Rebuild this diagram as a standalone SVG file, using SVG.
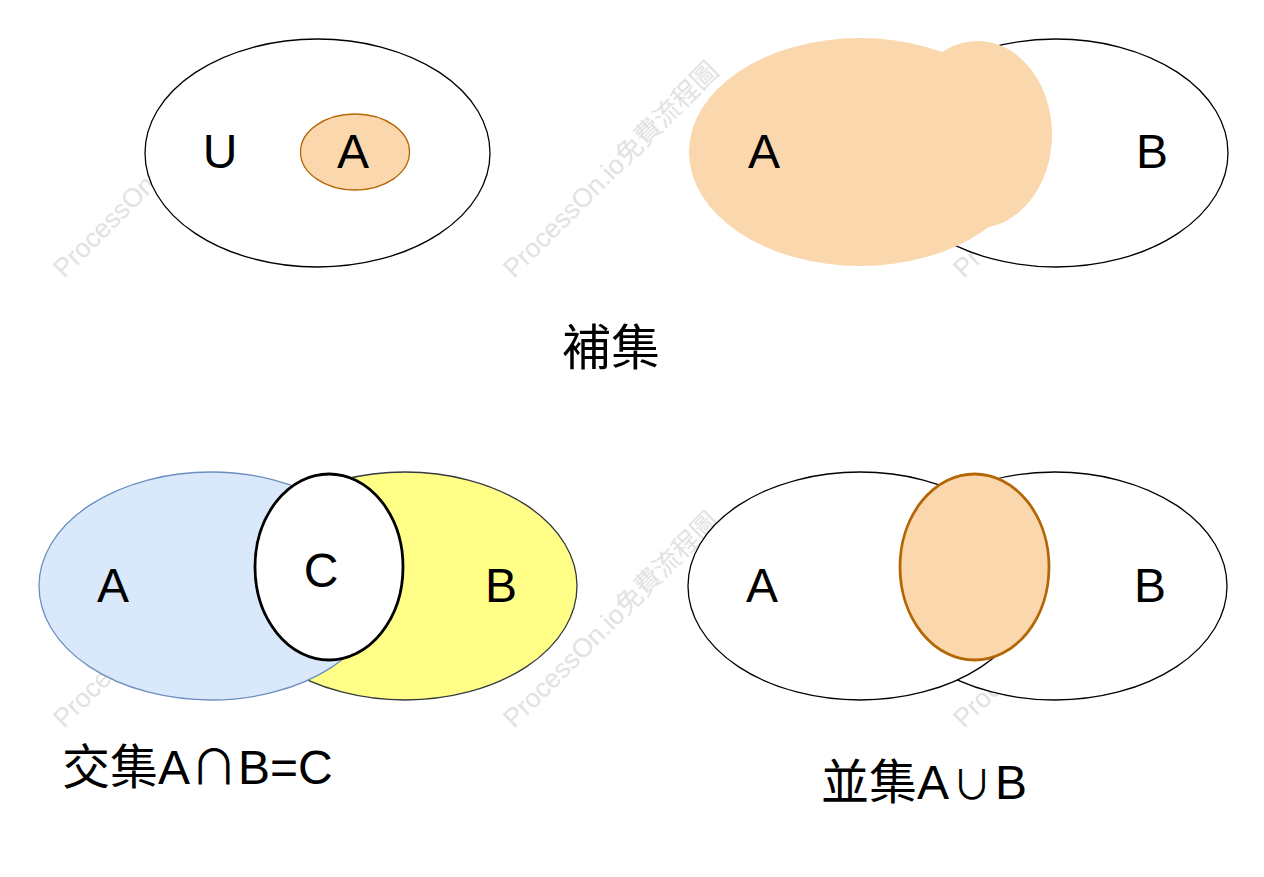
<svg xmlns="http://www.w3.org/2000/svg" width="1264" height="877" viewBox="0 0 1264 877">
<style>
.wm{font-family:"Liberation Sans","Noto Sans CJK TC",sans-serif;font-size:26.5px;fill:#e2e2e2}
.lbl{font-family:"Liberation Sans","Noto Sans CJK TC",sans-serif;font-size:48px;fill:#000;text-anchor:middle}
.cap{font-family:"Liberation Sans","Noto Sans CJK TC",sans-serif;font-size:48px;fill:#000}
.cjk{font-family:"Noto Sans CJK TC",sans-serif}
.thin{fill:#fff;stroke:#000;stroke-width:1.3}
.peach{fill:#fad7ac}
.bold{stroke-width:2.8}
</style>
<rect width="1264" height="877" fill="#fff"/>
<g id="watermarks">
<text class="wm" transform="translate(64,279) rotate(-45)">ProcessOn.io免費流程圖</text>
<text class="wm" transform="translate(514,279) rotate(-45)">ProcessOn.io免費流程圖</text>
<text class="wm" transform="translate(964,279) rotate(-45)">ProcessOn.io免費流程圖</text>
<text class="wm" transform="translate(64,729) rotate(-45)">ProcessOn.io免費流程圖</text>
<text class="wm" transform="translate(514,729) rotate(-45)">ProcessOn.io免費流程圖</text>
<text class="wm" transform="translate(964,729) rotate(-45)">ProcessOn.io免費流程圖</text>
</g>
<g id="universe-U">
<ellipse class="thin" cx="317.5" cy="153" rx="172.5" ry="114"/>
<text class="lbl" x="220" y="168">U</text>
</g>
<g id="subset-A">
<ellipse class="peach" cx="355" cy="152" rx="54.5" ry="38" stroke="#b46504" stroke-width="1.3"/>
<text class="lbl" x="353" y="168">A</text>
</g>
<g id="comp-B">
<ellipse class="thin" cx="1056" cy="153" rx="172" ry="114"/>
<text class="lbl" x="1152" y="168">B</text>
</g>
<g id="comp-A">
<ellipse class="peach" cx="860" cy="152" rx="171" ry="114"/>
<ellipse class="peach" cx="977.5" cy="134.5" rx="74.5" ry="93.5"/>
<text class="lbl" x="764" y="168">A</text>
</g>
<g id="caption-complement">
<text class="lbl" x="611" y="365" style="font-size:49px">補集</text>
</g>
<g id="inter-B">
<ellipse cx="405" cy="586" rx="172" ry="114" fill="#ffff88" stroke="#36393d" stroke-width="1.3"/>
<text class="lbl" x="501" y="602">B</text>
</g>
<g id="inter-A">
<ellipse cx="211" cy="586" rx="172" ry="114" fill="#dae8fc" stroke="#6c8ebf" stroke-width="1.3"/>
<text class="lbl" x="113" y="602">A</text>
</g>
<g id="inter-C">
<ellipse class="bold" cx="329" cy="567" rx="74" ry="93" fill="#fff" stroke="#000"/>
<text class="lbl" x="321" y="587">C</text>
</g>
<g id="caption-intersection">
<text class="cap" x="62" y="784">交集A<tspan class="cjk">∩</tspan>B=C</text>
</g>
<g id="union-B">
<ellipse class="thin" cx="1055" cy="586" rx="172" ry="114"/>
<text class="lbl" x="1150" y="602">B</text>
</g>
<g id="union-A">
<ellipse class="thin" cx="860" cy="586" rx="172" ry="114"/>
<text class="lbl" x="762" y="602">A</text>
</g>
<g id="union-lens">
<ellipse class="peach bold" cx="974.5" cy="567" rx="74.5" ry="93" stroke="#b46504"/>
</g>
<g id="caption-union">
<text class="cap" x="821" y="799">並集A<tspan class="cjk" dx="3" style="font-size:40px">∪</tspan><tspan dx="3">B</tspan></text>
</g>
</svg>
